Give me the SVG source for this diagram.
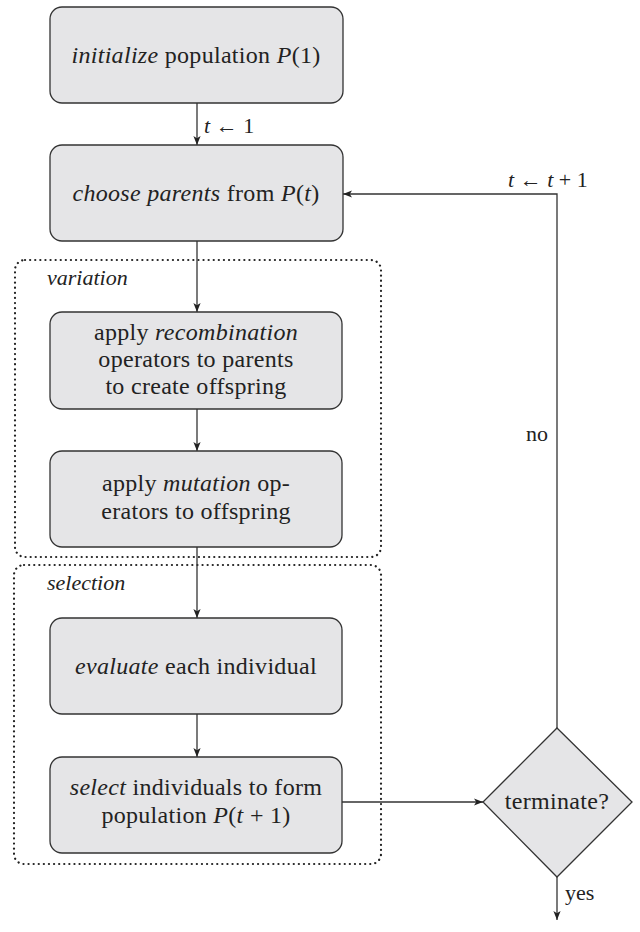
<svg xmlns="http://www.w3.org/2000/svg" width="640" height="932" viewBox="0 0 640 932">
<style>
.box{fill:#e5e5e7;stroke:#333;stroke-width:1.3}
.grp{fill:none;stroke:#222;stroke-width:2.2;stroke-dasharray:0.1 5;stroke-linecap:round}
.c{fill:none;stroke:#333;stroke-width:1.3}
.ntxt{font-family:'Liberation Serif','DejaVu Serif',serif;font-size:24px;letter-spacing:0.3px;fill:#222;text-anchor:middle}
.lbl{font-family:'Liberation Serif','DejaVu Serif',serif;font-size:22px;fill:#222}
.it{font-style:italic}
</style>
<defs>
<marker id="ah" viewBox="0 0 10 10" refX="10" refY="5" markerWidth="9" markerHeight="9" markerUnits="userSpaceOnUse" orient="auto">
<path d="M0,1 L10,5 L0,9 L2.5,5 Z" fill="#222"/>
</marker>
</defs>
<g id="group-variation">
<rect class="grp" x="15" y="260" width="366" height="297" rx="10"/>
<text class="lbl it" x="47" y="285">variation</text>
</g>
<g id="group-selection">
<rect class="grp" x="14" y="565" width="367" height="299" rx="10"/>
<text class="lbl it" x="47" y="590">selection</text>
</g>
<g id="connectors">
<line class="c" x1="197" y1="103" x2="197" y2="145" marker-end="url(#ah)"/>
<line class="c" x1="197" y1="241" x2="197" y2="312" marker-end="url(#ah)"/>
<line class="c" x1="197" y1="409" x2="197" y2="451" marker-end="url(#ah)"/>
<line class="c" x1="197" y1="547" x2="197" y2="618" marker-end="url(#ah)"/>
<line class="c" x1="197" y1="714" x2="197" y2="757" marker-end="url(#ah)"/>
<line class="c" x1="342" y1="802" x2="483" y2="802" marker-end="url(#ah)"/>
<polyline class="c" points="557,728 557,194 343,194" marker-end="url(#ah)"/>
<line class="c" x1="557" y1="877" x2="557" y2="920" marker-end="url(#ah)"/>
<text class="lbl" x="204" y="133"><tspan class="it">t</tspan> ← 1</text>
<text class="lbl" x="508" y="187"><tspan class="it">t</tspan> ← <tspan class="it">t</tspan> + 1</text>
<text class="lbl" x="526" y="441">no</text>
<text class="lbl" x="565" y="900">yes</text>
</g>
<g id="n1">
<rect class="box" x="50" y="7" width="293" height="96" rx="12"/>
<text class="ntxt" x="196" y="63"><tspan class="it">initialize</tspan> population <tspan class="it">P</tspan>(1)</text>
</g>
<g id="n2">
<rect class="box" x="50" y="145" width="293" height="96" rx="12"/>
<text class="ntxt" x="196" y="201"><tspan class="it">choose parents</tspan> from <tspan class="it">P</tspan>(<tspan class="it">t</tspan>)</text>
</g>
<g id="n3">
<rect class="box" x="50" y="312" width="292" height="97" rx="12"/>
<text class="ntxt" x="196" y="340">apply <tspan class="it">recombination</tspan></text>
<text class="ntxt" x="196" y="367">operators to parents</text>
<text class="ntxt" x="196" y="394">to create offspring</text>
</g>
<g id="n4">
<rect class="box" x="50" y="451" width="292" height="96" rx="12"/>
<text class="ntxt" x="196" y="491">apply <tspan class="it">mutation</tspan> op-</text>
<text class="ntxt" x="196" y="519">erators to offspring</text>
</g>
<g id="n5">
<rect class="box" x="50" y="618" width="292" height="96" rx="12"/>
<text class="ntxt" x="196" y="674"><tspan class="it">evaluate</tspan> each individual</text>
</g>
<g id="n6">
<rect class="box" x="50" y="757" width="292" height="96" rx="12"/>
<text class="ntxt" x="196" y="795"><tspan class="it">select</tspan> individuals to form</text>
<text class="ntxt" x="196" y="823">population <tspan class="it">P</tspan>(<tspan class="it">t</tspan> + 1)</text>
</g>
<g id="n7">
<polygon class="box" points="557,728 632,802 557,877 483,802"/>
<text class="ntxt" x="557" y="809">terminate?</text>
</g>
</svg>
